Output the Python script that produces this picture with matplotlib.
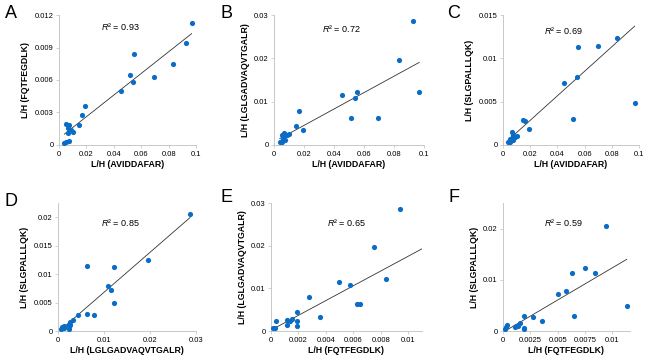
import matplotlib
matplotlib.use("Agg")
import matplotlib.pyplot as plt
import numpy as np

plt.rcParams['font.family'] = ['Liberation Sans', 'DejaVu Sans']
plt.rcParams['mathtext.fontset'] = 'custom'
plt.rcParams['mathtext.it'] = 'Liberation Sans:italic'
plt.rcParams['mathtext.rm'] = 'Liberation Sans'

# L/H ratios per sample for the four peptides
avid = [0.0968, 0.0925, 0.0835, 0.0696, 0.0550, 0.0543, 0.0450, 0.0516, 0.0165, 0.0146, 0.0192,
        0.0054, 0.0073, 0.0068, 0.0088, 0.0100, 0.0063, 0.0073, 0.0039, 0.0050]
fqtf = [0.0113, 0.00938, 0.00748, 0.00628, 0.00837, 0.00578, 0.00498, 0.00648, 0.00278, 0.00188, 0.00358,
        0.00190, 0.00188, 0.00155, 0.00138, 0.00118, 0.00114, 0.00035, 0.00015, 0.00030]
lglg = [0.01214, 0.0287, 0.0196, 0.00626, 0.01214, 0.0108, 0.01145, 0.00634, 0.00789, 0.00445, 0.00335,
        0.0024, 0.0012, 0.0027, 0.0024, 0.0025, 0.0014, 0.0024, 0.0006, 0.0008]
slgp = [0.00485, 0.0206, 0.0124, 0.0114, 0.0113, 0.0079, 0.0072, 0.0030, 0.0028, 0.0029, 0.0019,
        0.0004, 0.0006, 0.0015, 0.0009, 0.0010, 0.0008, 0.0011, 0.0004, 0.0007]

peptides = {"AVIDDAFAR": avid, "FQTFEGDLK": fqtf, "LGLGADVAQVTGALR": lglg, "SLGPALLLQK": slgp}

letters = ["A", "B", "C", "D", "E", "F"]
pairs = [("AVIDDAFAR", "FQTFEGDLK"), ("AVIDDAFAR", "LGLGADVAQVTGALR"), ("AVIDDAFAR", "SLGPALLLQK"),
         ("LGLGADVAQVTGALR", "SLGPALLLQK"), ("FQTFEGDLK", "LGLGADVAQVTGALR"), ("FQTFEGDLK", "SLGPALLLQK")]
r2_labels = ["0.93", "0.72", "0.69", "0.85", "0.65", "0.59"]

xticks = [[0, 0.02, 0.04, 0.06, 0.08, 0.1]] * 3 + [[0, 0.01, 0.02, 0.03],
          [0, 0.002, 0.004, 0.006, 0.008, 0.01], [0, 0.0025, 0.005, 0.0075, 0.01]]
xticklabels = [["0", "0.02", "0.04", "0.06", "0.08", "0.1"]] * 3 + [["0", "0.01", "0.02", "0.03"],
               ["0", "0.002", "0.004", "0.006", "0.008", "0.01"], ["0", "0.0025", "0.005", "0.0075", "0.01"]]
yticks = [[0, 0.003, 0.006, 0.009, 0.012], [0, 0.01, 0.02, 0.03], [0, 0.005, 0.01, 0.015],
          [0, 0.005, 0.01, 0.015, 0.02], [0, 0.01, 0.02, 0.03], [0, 0.01, 0.02]]
yticklabels = [["0", "0.003", "0.006", "0.009", "0.012"], ["0", "0.01", "0.02", "0.03"],
               ["0", "0.005", "0.01", "0.015"], ["0", "0.005", "0.01", "0.015", "0.02"],
               ["0", "0.01", "0.02", "0.03"], ["0", "0.01", "0.02"]]
xmax = [0.1, 0.1, 0.1, 0.03, 0.011, 0.0116]
ymax = [0.012, 0.03, 0.015, 0.0225, 0.03, 0.025]

W, H = 650, 361
# axes boxes in pixels: left, right, top, bottom
boxes = [(59, 196, 15, 145), (274, 424, 15, 145), (503, 639, 15, 145),
         (58, 196, 203, 331), (271, 422, 203, 331), (503, 630, 203, 331)]
letter_pos = [(11, 13), (226, 13), (454, 13), (11, 201), (227, 198), (454, 198)]
r2_pos = [(120, 27), (341, 29), (563, 30), (120, 223), (346, 223), (563, 223)]

blue = "#0A6CC4"
grey = "#BFBFBF"

fig = plt.figure(figsize=(6.5, 3.61), dpi=100)

for i in range(6):
    l, r, t, b = boxes[i]
    ax = fig.add_axes([l / W, 1 - b / H, (r - l) / W, (b - t) / H])
    xn, yn = pairs[i]
    x = np.array(peptides[xn])
    y = np.array(peptides[yn])
    ax.scatter(x, y, s=14, color=blue, linewidths=0, zorder=3)
    k, c = np.polyfit(x, y, 1)
    xs = np.array([x.min(), x.max()])
    ax.plot(xs, k * xs + c, color="#333333", lw=0.6, zorder=2)

    ax.set_xlim(0, xmax[i])
    ax.set_ylim(0, ymax[i])
    ax.set_xticks(xticks[i])
    ax.set_xticklabels(xticklabels[i])
    ax.set_yticks(yticks[i])
    ax.set_yticklabels(yticklabels[i])
    ax.tick_params(labelsize=5.5, length=2, width=0.5, color=grey, pad=2)
    for s in ["top", "right"]:
        ax.spines[s].set_visible(False)
    for s in ["left", "bottom"]:
        ax.spines[s].set_color(grey)
        ax.spines[s].set_linewidth(0.6)
    ax.set_xlabel("L/H (%s)" % xn, fontsize=6.3, fontweight="bold", labelpad=2)
    ax.set_ylabel("L/H (%s)" % yn, fontsize=6.3, fontweight="bold", labelpad=3)

    fig.text(letter_pos[i][0] / W, 1 - letter_pos[i][1] / H, letters[i], fontsize=13,
             ha="center", va="center")
    fig.text(r2_pos[i][0] / W, 1 - r2_pos[i][1] / H, r"$R$² = " + r2_labels[i], fontsize=6.5,
             ha="center", va="center")

fig.savefig("out.png", dpi=100)
